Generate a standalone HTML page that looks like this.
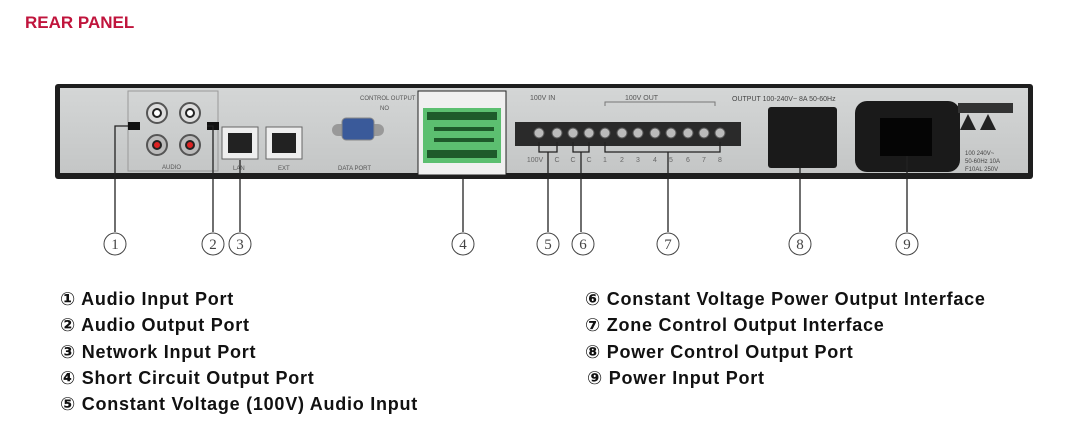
<!DOCTYPE html>
<html><head><meta charset="utf-8"><style>
body{margin:0;width:1091px;height:429px;background:#fff;overflow:hidden;font-family:"Liberation Sans","DejaVu Sans",sans-serif}
.t{position:absolute;font-size:18px;letter-spacing:0.75px;font-weight:bold;color:#111;white-space:nowrap;line-height:20px}
</style></head><body>
<div style="position:absolute;left:25px;top:13px;font-size:17px;font-weight:bold;color:#c0143c">REAR PANEL</div>
<svg width="1091" height="429" style="position:absolute;left:0;top:0">
<defs><linearGradient id="p" x1="0" y1="0" x2="0" y2="1"><stop offset="0" stop-color="#d4d6d6"/><stop offset="1" stop-color="#c4c6c6"/></linearGradient></defs>
<rect x="55" y="84" width="978" height="95" rx="3" fill="#1e1e1e"/>
<rect x="60" y="88" width="968" height="85" fill="url(#p)"/>
<rect x="128" y="91" width="90" height="80" fill="none" stroke="#999" stroke-width="1"/>
<g stroke="#555" stroke-width="2">
<circle cx="157" cy="113" r="10" fill="#ddd"/><circle cx="157" cy="113" r="4" fill="#fff" stroke="#222"/>
<circle cx="190" cy="113" r="10" fill="#ddd"/><circle cx="190" cy="113" r="4" fill="#fff" stroke="#222"/>
<circle cx="157" cy="145" r="10" fill="#bbb"/><circle cx="157" cy="145" r="4" fill="#d22" stroke="#222"/>
<circle cx="190" cy="145" r="10" fill="#bbb"/><circle cx="190" cy="145" r="4" fill="#d22" stroke="#222"/>
</g>
<rect x="128" y="122" width="12" height="8" fill="#111"/><rect x="207" y="122" width="12" height="8" fill="#111"/>
<text x="162" y="169" font-size="6" fill="#555">AUDIO</text>
<rect x="222" y="127" width="36" height="32" fill="#eee" stroke="#666"/><rect x="228" y="133" width="24" height="20" fill="#222"/>
<rect x="266" y="127" width="36" height="32" fill="#eee" stroke="#666"/><rect x="272" y="133" width="24" height="20" fill="#222"/>
<text x="233" y="170" font-size="6" fill="#555">LAN</text><text x="278" y="170" font-size="6" fill="#555">EXT</text>
<text x="360" y="100" font-size="6" fill="#555">CONTROL OUTPUT</text><text x="380" y="110" font-size="6" fill="#555">NO</text>
<rect x="332" y="124" width="52" height="12" rx="6" fill="#999"/>
<rect x="342" y="118" width="32" height="22" rx="4" fill="#3a5a9a" stroke="#888"/>
<text x="338" y="170" font-size="6" fill="#555">DATA PORT</text>
<rect x="418" y="91" width="88" height="84" fill="#f0f0f0" stroke="#222"/>
<rect x="423" y="108" width="78" height="55" fill="#5cbf70"/>
<g fill="#1e5a2a"><rect x="427" y="112" width="70" height="8"/><rect x="427" y="150" width="70" height="8"/><rect x="434" y="127" width="60" height="4"/><rect x="434" y="138" width="60" height="4"/></g>
<text x="530" y="100" font-size="7" fill="#555">100V IN</text><text x="625" y="100" font-size="7" fill="#555">100V OUT</text>
<path d="M605 106V102H715V106" fill="none" stroke="#777"/>
<rect x="515" y="122" width="226" height="24" fill="#2a2a2a"/>
<g fill="#bbb" stroke="#555"><circle cx="539" cy="133" r="5"/><circle cx="557" cy="133" r="5"/><circle cx="573" cy="133" r="5"/><circle cx="589" cy="133" r="5"/><circle cx="605" cy="133" r="5"/><circle cx="622" cy="133" r="5"/><circle cx="638" cy="133" r="5"/><circle cx="655" cy="133" r="5"/><circle cx="671" cy="133" r="5"/><circle cx="688" cy="133" r="5"/><circle cx="704" cy="133" r="5"/><circle cx="720" cy="133" r="5"/></g>
<g font-size="7" fill="#666" text-anchor="middle"><text x="535" y="162">100V</text><text x="557" y="162">C</text><text x="573" y="162">C</text><text x="589" y="162">C</text><text x="605" y="162">1</text><text x="622" y="162">2</text><text x="638" y="162">3</text><text x="655" y="162">4</text><text x="671" y="162">5</text><text x="688" y="162">6</text><text x="704" y="162">7</text><text x="720" y="162">8</text></g>
<text x="732" y="101" font-size="7" fill="#444">OUTPUT 100-240V~ 8A 50-60Hz</text>
<rect x="768" y="107" width="69" height="61" rx="3" fill="#1a1a1a"/>
<rect x="855" y="101" width="105" height="71" rx="12" fill="#1a1a1a"/>
<rect x="880" y="118" width="52" height="38" fill="#050505"/>
<polygon points="960,130 968,114 976,130" fill="#222"/><polygon points="980,130 988,114 996,130" fill="#222"/>
<rect x="958" y="103" width="55" height="10" fill="#333"/>
<text x="965" y="155" font-size="6" fill="#444">100 240V~</text><text x="965" y="163" font-size="6" fill="#444">50-60Hz 10A</text><text x="965" y="171" font-size="6" fill="#444">F10AL 250V</text>
<g stroke="#222" stroke-width="1.3" fill="none">
<path d="M115 232V126H128"/><path d="M213 232V126H207"/><path d="M240 232V160"/>
<path d="M463 232V175"/><path d="M539 142V152H557V142M548 152V232"/><path d="M573 142V152H589V142M581 152V232"/>
<path d="M605 142V152H720V142M668 152V232"/><path d="M800 168V232"/><path d="M907 156V232"/>
</g>
<g font-family="Liberation Serif,DejaVu Serif,serif" fill="#444" text-anchor="middle">
<g fill="none" stroke="#444" stroke-width="1"><circle cx="115" cy="244" r="11"/><circle cx="213" cy="244" r="11"/><circle cx="240" cy="244" r="11"/><circle cx="463" cy="244" r="11"/><circle cx="548" cy="244" r="11"/><circle cx="583" cy="244" r="11"/><circle cx="668" cy="244" r="11"/><circle cx="800" cy="244" r="11"/><circle cx="907" cy="244" r="11"/></g>
<g font-size="15"><text x="115" y="249">1</text><text x="213" y="249">2</text><text x="240" y="249">3</text><text x="463" y="249">4</text><text x="548" y="249">5</text><text x="583" y="249">6</text><text x="668" y="249">7</text><text x="800" y="249">8</text><text x="907" y="249">9</text></g>
</g>
</svg>
<div class="t" style="left:60px;top:289px">① Audio Input Port</div>
<div class="t" style="left:60px;top:315px">② Audio Output Port</div>
<div class="t" style="left:60px;top:342px">③ Network Input Port</div>
<div class="t" style="left:60px;top:368px">④ Short Circuit Output Port</div>
<div class="t" style="left:60px;top:394px">⑤ Constant Voltage (100V) Audio Input</div>
<div class="t" style="left:585px;top:289px">⑥ Constant Voltage Power Output Interface</div>
<div class="t" style="left:585px;top:315px">⑦ Zone Control Output Interface</div>
<div class="t" style="left:585px;top:342px">⑧ Power Control Output Port</div>
<div class="t" style="left:587px;top:368px">⑨ Power Input Port</div>
</body></html>
